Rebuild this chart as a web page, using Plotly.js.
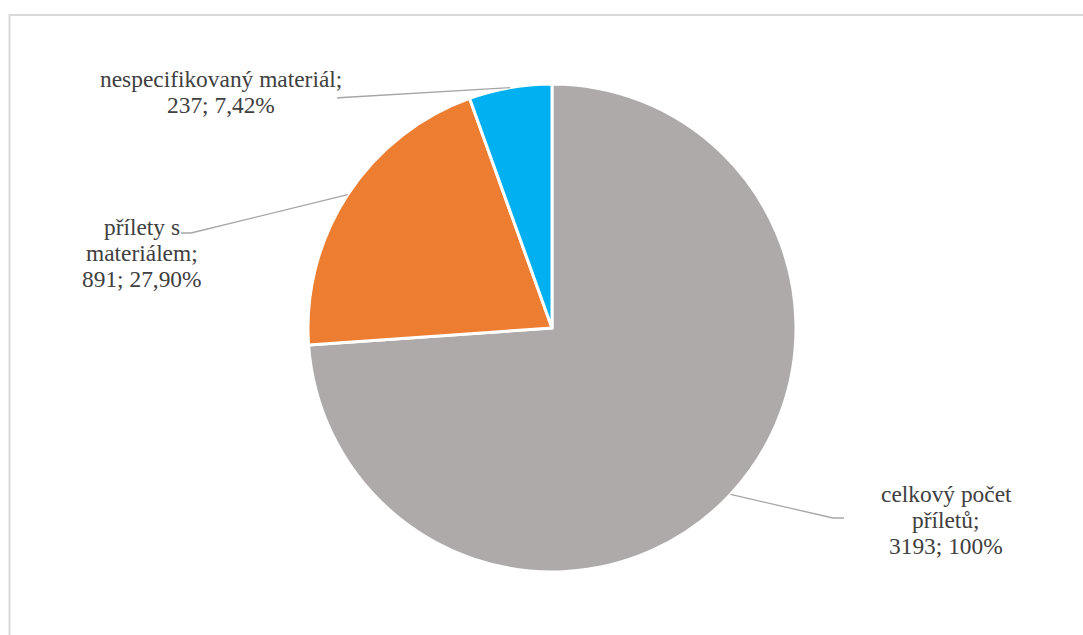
<!DOCTYPE html>
<html>
<head>
<meta charset="utf-8">
<script src="https://cdn.plot.ly/plotly-3.0.1.min.js"></script>
<style>
  html, body { margin: 0; padding: 0; background: #fff; }
  #chart { width: 1083px; height: 635px; }
</style>
</head>
<body>
<div id="chart"></div>
<script>
// Lety podle typu – počty a podíly
const categories = ['celkový počet<br>příletů;', 'přílety s<br>materiálem;', 'nespecifikovaný materiál;'];
const values = [3193, 891, 237];
const shares = ['100%', '27,90%', '7,42%'];
const colors = ['#AEAAAA', '#ED7D31', '#00B0F0'];

const W = 1083, H = 635;
const px = x => x / W;
const py = y => 1 - y / H;

// pie geometry in pixels
const cx = 552, cy = 328, R = 244;

// label placement (pixels): text centre x, first baseline, leader knee and leader end
const labelPos = [
  { tx: 946, base: 502,   knee: [833, 518], end: [844, 518] },
  { tx: 142, base: 234.5, knee: [191, 233], end: [181, 233] },
  { tx: 221, base: 87,    knee: [343, 97.5], end: [337, 98] }
];
const lineStep = 26;
const fontSize = 23.4;
const labelFont = { family: 'Liberation Serif', size: fontSize, color: '#404040' };
// offset from baseline to the middle of a single text line box
const baseToMiddle = fontSize * (0.891 - (0.891 + 0.216) / 2);

const total = values.reduce((a, b) => a + b, 0);
const shapes = [];
const annotations = [];

// border of the chart area
shapes.push({
  type: 'rect', xref: 'paper', yref: 'paper',
  x0: px(9.5), x1: px(1084), y0: py(15), y1: py(645),
  line: { color: '#D9D9D9', width: 2 }, fillcolor: 'rgba(0,0,0,0)'
});

let acc = 0;
values.forEach((v, i) => {
  const mid = (acc + v / 2) / total * 2 * Math.PI; // clockwise from 12 o'clock
  acc += v;
  const sx = cx + R * Math.sin(mid);
  const sy = cy - R * Math.cos(mid);
  const p = labelPos[i];
  shapes.push({
    type: 'path', xref: 'paper', yref: 'paper',
    path: `M ${px(sx)} ${py(sy)} L ${px(p.knee[0])} ${py(p.knee[1])} L ${px(p.end[0])} ${py(p.end[1])}`,
    line: { color: '#A6A6A6', width: 1.3 }
  });
  const lines = categories[i].split('<br>').concat([`${v}; ${shares[i]}`]);
  lines.forEach((t, k) => {
    annotations.push({
      xref: 'paper', yref: 'paper',
      x: px(p.tx), y: py(p.base + k * lineStep - baseToMiddle),
      xanchor: 'center', yanchor: 'middle', align: 'center', showarrow: false,
      borderpad: 0,
      text: t,
      font: labelFont
    });
  });
});

const data = [{
  type: 'pie',
  labels: categories,
  values: values,
  sort: false,
  direction: 'clockwise',
  rotation: 0,
  textinfo: 'none',
  hoverinfo: 'none',
  marker: { colors: colors, line: { color: '#FFFFFF', width: 3 } },
  domain: { x: [px(cx - R), px(cx + R)], y: [py(cy + R), py(cy - R)] }
}];

const layout = {
  width: W, height: H,
  margin: { l: 0, r: 0, t: 0, b: 0 },
  paper_bgcolor: '#FFFFFF',
  font: labelFont,
  showlegend: false,
  shapes: shapes,
  annotations: annotations
};

Plotly.newPlot('chart', data, layout, { displayModeBar: false, staticPlot: true });
</script>
</body>
</html>
